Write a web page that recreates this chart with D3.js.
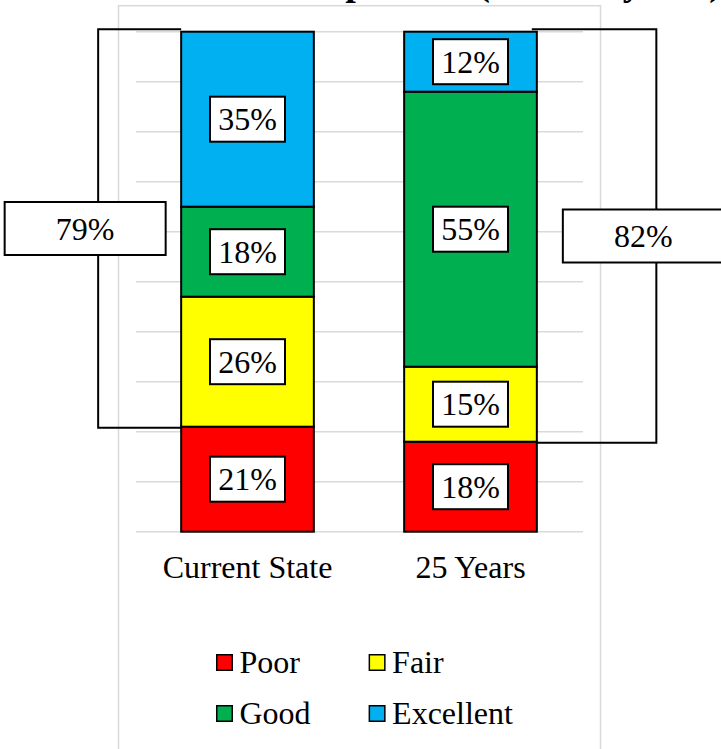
<!DOCTYPE html>
<html>
<head>
<meta charset="utf-8">
<script src="https://cdn.jsdelivr.net/npm/d3@7"></script>
<style>
  html, body { margin: 0; padding: 0; background: #fff; }
  svg { display: block; }
  text { font-family: "Liberation Serif", "Times New Roman", serif; fill: #000; }
</style>
</head>
<body>
<svg id="chart" width="721" height="749"></svg>
<script>
// ---- data ----
const title = "Condition Comparison (Next 25 years)";
const categories = ["Current State", "25 Years"];
const conditions = ["Poor", "Fair", "Good", "Excellent"];
const poorValues = [21, 18];
const fairValues = [26, 15];
const goodValues = [18, 55];
const excellentValues = [35, 12];
const conditionColors = ["#FF0000", "#FFFF00", "#00B050", "#00B0F0"];
const yTicks = [0, 10, 20, 30, 40, 50, 60, 70, 80, 90, 100];

// table built from the arrays
const rows = categories.map((c, i) => ({
  category: c,
  Poor: poorValues[i],
  Fair: fairValues[i],
  Good: goodValues[i],
  Excellent: excellentValues[i]
}));

const svg = d3.select("#chart");

const x = d3.scaleBand().domain(categories).range([136, 582])
  .paddingInner(0.405).paddingOuter(0.2025);
const y = d3.scaleLinear().domain([0, 100]).range([531.7, 31.7]);
const color = d3.scaleOrdinal().domain(conditions).range(conditionColors);

// title (mostly clipped at top, as in the reference)
svg.append("text")
  .attr("x", 722).attr("y", -5)
  .attr("text-anchor", "end")
  .style("font-size", "38px").style("font-weight", "bold")
  .text(title);

// chart area border
svg.append("rect")
  .attr("x", 118.5).attr("y", 5.7).attr("width", 482).attr("height", 800)
  .attr("fill", "none").attr("stroke", "#D9D9D9").attr("stroke-width", 1.5);

// gridlines
svg.append("g").selectAll("line").data(yTicks).join("line")
  .attr("x1", 136).attr("x2", 583)
  .attr("y1", d => y(d)).attr("y2", d => y(d))
  .attr("stroke", "#D9D9D9").attr("stroke-width", 1.4);

// brackets
const stack = d3.stack().keys(conditions);
const series = stack(rows);
const bracketGroup = svg.append("g");
rows.forEach((r, i) => {
  const top = y(100) - 2.4;
  const bottom = y(r.Poor) + 1;
  const share = r.Fair + r.Good + r.Excellent;
  let lineX, edgeX;
  if (i === 0) {
    edgeX = x(r.category);
    lineX = edgeX - 83;
  } else {
    edgeX = x(r.category) + x.bandwidth() - 5;
    lineX = x(r.category) + x.bandwidth() + 119.5;
  }
  bracketGroup.append("path")
    .attr("d", `M${edgeX},${top}H${lineX}V${bottom}H${edgeX}`)
    .attr("fill", "none").attr("stroke", "#000").attr("stroke-width", 2);
  r._bracket = { cx: lineX - 13, cy: (top + bottom) / 2, label: share + "%" };
});

// bars
const barG = svg.append("g");
series.forEach(s => {
  barG.selectAll(null).data(s).join("rect")
    .attr("x", d => x(d.data.category))
    .attr("width", x.bandwidth())
    .attr("y", d => y(d[1]))
    .attr("height", d => y(d[0]) - y(d[1]))
    .attr("fill", color(s.key))
    .attr("stroke", "#000").attr("stroke-width", 2);
});

// data labels
const labG = svg.append("g");
series.forEach(s => {
  s.forEach(d => {
    const cx = x(d.data.category) + x.bandwidth() / 2;
    const cy = (y(d[0]) + y(d[1])) / 2;
    labG.append("rect")
      .attr("x", cx - 37.5).attr("y", cy - 22.5).attr("width", 75).attr("height", 45)
      .attr("fill", "#fff").attr("stroke", "#000").attr("stroke-width", 2);
    labG.append("text")
      .attr("x", cx).attr("y", cy + 11)
      .attr("text-anchor", "middle").style("font-size", "32px")
      .text((d[1] - d[0]) + "%");
  });
});

// bracket labels
rows.forEach(r => {
  const b = r._bracket;
  svg.append("rect")
    .attr("x", b.cx - 80.5).attr("y", b.cy - 26.5).attr("width", 161).attr("height", 53)
    .attr("fill", "#fff").attr("stroke", "#000").attr("stroke-width", 2);
  svg.append("text")
    .attr("x", b.cx).attr("y", b.cy + 11)
    .attr("text-anchor", "middle").style("font-size", "32px")
    .text(b.label);
});

// category axis labels
const xAxis = d3.axisBottom(x).tickSize(0).tickPadding(0);
const axG = svg.append("g").attr("transform", "translate(0,531.7)").call(xAxis);
axG.select(".domain").remove();
axG.selectAll("text")
  .attr("y", 46.3).attr("dy", null)
  .style("font-size", "32px")
  .style("font-family", "'Liberation Serif', 'Times New Roman', serif")
  .attr("fill", "#000");

// legend
const legendItems = conditions.map((c, i) => ({ name: c, col: i % 2, row: Math.floor(i / 2) }));
const lg = svg.append("g");
legendItems.forEach(it => {
  const lx = 216 + it.col * 152.6;
  const ly = 662.5 + it.row * 51;
  lg.append("rect")
    .attr("x", lx + 0.75).attr("y", ly - 7.75).attr("width", 15.5).attr("height", 15.5)
    .attr("fill", color(it.name)).attr("stroke", "#000").attr("stroke-width", 1.5);
  lg.append("text")
    .attr("x", lx + 23.5).attr("y", ly + 10.5)
    .style("font-size", "32px")
    .text(it.name);
});
</script>
</body>
</html>
